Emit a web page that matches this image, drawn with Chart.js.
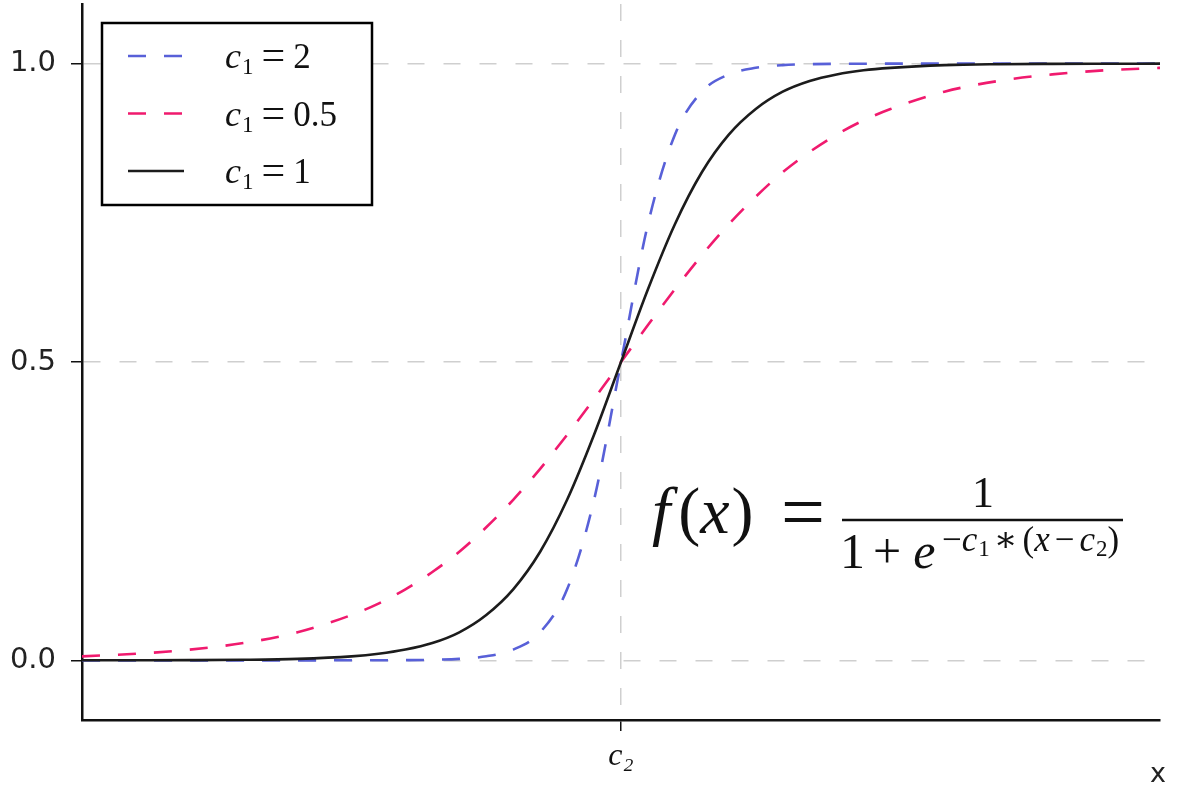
<!DOCTYPE html>
<html>
<head>
<meta charset="utf-8">
<script src="https://cdn.jsdelivr.net/npm/chart.js@4.4.1/dist/chart.umd.min.js"></script>
<style>
  html, body { margin: 0; padding: 0; background: #fff; }
  #wrap { width: 1181px; height: 790px; position: relative; }
</style>
</head>
<body>
<div id="wrap"><canvas id="sigmoidChart"></canvas></div>
<script>
// values (x in units around c2 = 0)
const xValues = [-10, -9, -8, -7, -6, -5, -4.5, -4, -3.5, -3, -2.5, -2, -1.5, -1, -0.5, 0,
  0.5, 1, 1.5, 2, 2.5, 3, 3.5, 4, 4.5, 5, 6, 7, 8, 9, 10];
const c1Two = [0, 0, 0, 0, 0, 0.00005, 0.0001, 0.0003, 0.0009, 0.0025, 0.0067, 0.018, 0.047, 0.119, 0.269, 0.5,
  0.731, 0.881, 0.953, 0.982, 0.993, 0.9975, 0.9991, 0.9997, 0.9999, 1, 1, 1, 1, 1, 1];
const c1Half = [0.0067, 0.011, 0.018, 0.029, 0.047, 0.076, 0.095, 0.119, 0.148, 0.182, 0.223, 0.269, 0.321, 0.378, 0.438, 0.5,
  0.562, 0.622, 0.679, 0.731, 0.777, 0.818, 0.852, 0.881, 0.905, 0.924, 0.953, 0.971, 0.982, 0.989, 0.993];
const c1One = [0.00005, 0.0001, 0.0003, 0.0009, 0.0025, 0.0067, 0.011, 0.018, 0.029, 0.047, 0.076, 0.119, 0.182, 0.269, 0.378, 0.5,
  0.622, 0.731, 0.818, 0.881, 0.924, 0.953, 0.971, 0.982, 0.989, 0.993, 0.9975, 0.9991, 0.9997, 0.9999, 1];
const seriesNames = ["2", "0.5", "1"];
const yTicks = [0, 0.5, 1.0];
const xTicks = [0];
const xTickLabels = ["c\u2082"];

const SERIF = '"Liberation Serif", "DejaVu Serif", serif';

function toPoints(values) {
  return values.map((v, i) => ({ x: xValues[i], y: v }));
}

// draw a row of text pieces, each with its own font
function drawRuns(ctx, x, y, runs) {
  runs.forEach((r) => {
    ctx.font = (r.italic ? "italic " : "") + r.size + "px " + SERIF;
    if (r.at !== undefined) x = r.at;
    x += r.pre || 0;
    ctx.fillText(r.t, x, y + (r.dy || 0));
    x += ctx.measureText(r.t).width + (r.post || 0);
  });
  return x;
}

const overlayPlugin = {
  id: "overlay",
  afterDraw(chart) {
    const ctx = chart.ctx;
    ctx.save();
    ctx.textBaseline = "alphabetic";
    ctx.textAlign = "left";

    // legend box
    ctx.fillStyle = "#fff";
    ctx.fillRect(102, 23, 270, 182);
    ctx.strokeStyle = "#000";
    ctx.lineWidth = 2.5;
    ctx.strokeRect(102, 23, 270, 182);

    chart.data.datasets.forEach((ds, i) => {
      const base = 68 + i * 57.5;
      ctx.strokeStyle = ds.borderColor;
      ctx.lineWidth = 2.5;
      ctx.setLineDash(ds.borderDash || []);
      ctx.beginPath();
      ctx.moveTo(128, base - 12);
      ctx.lineTo(184, base - 12);
      ctx.stroke();
      ctx.setLineDash([]);
      ctx.fillStyle = "#111";
      drawRuns(ctx, 225, base, [
        { t: "c", italic: true, size: 36 },
        { t: "1", size: 23, dy: 6, pre: 1 },
        { t: "=", size: 42, pre: 8, post: 8, dy: 1 },
        { t: seriesNames[i], size: 35 }
      ]);
    });

    // formula
    ctx.fillStyle = "#111";
    drawRuns(ctx, 652, 533, [
      { t: "f", italic: true, size: 66 },
      { t: "(", size: 66, pre: 8 },
      { t: "x", italic: true, size: 66 },
      { t: ")", size: 66, pre: 2 },
      { t: "=", size: 78, at: 781, dy: 5 }
    ]);
    ctx.textAlign = "center";
    ctx.font = "44px " + SERIF;
    ctx.fillText("1", 983, 507);
    ctx.textAlign = "left";
    ctx.strokeStyle = "#111";
    ctx.lineWidth = 2.5;
    ctx.beginPath();
    ctx.moveTo(842, 520);
    ctx.lineTo(1123, 520);
    ctx.stroke();
    drawRuns(ctx, 840, 568, [
      { t: "1", size: 50 },
      { t: "+", size: 50, pre: 8, post: 12 },
      { t: "e", italic: true, size: 50 }
    ]);
    drawRuns(ctx, 942, 551, [
      { t: "\u2212", size: 35 },
      { t: "c", italic: true, size: 35 },
      { t: "1", size: 23, dy: 5, pre: 1 },
      { t: "\u2217", size: 35, pre: 4, post: 5 },
      { t: "(", size: 35 },
      { t: "x", italic: true, size: 35 },
      { t: "\u2212", size: 35, pre: 5, post: 5 },
      { t: "c", italic: true, size: 35 },
      { t: "2", size: 23, dy: 5, pre: 1 },
      { t: ")", size: 35 }
    ]);

    // x axis name
    ctx.textAlign = "center";
    ctx.font = '27px "DejaVu Sans", sans-serif';
    ctx.fillStyle = "#222";
    ctx.fillText("x", 1158, 782);
    ctx.restore();
  }
};

const ctx = document.getElementById("sigmoidChart").getContext("2d");

new Chart(ctx, {
  type: "line",
  data: {
    datasets: [
      {
        label: "c1 = " + seriesNames[0],
        data: toPoints(c1Two),
        borderColor: "#5860d8",
        borderDash: [18, 18],
        order: 2
      },
      {
        label: "c1 = " + seriesNames[1],
        data: toPoints(c1Half),
        borderColor: "#f01a6e",
        borderDash: [18, 18],
        order: 1
      },
      {
        label: "c1 = " + seriesNames[2],
        data: toPoints(c1One),
        borderColor: "#1c1c1c",
        order: 0
      }
    ]
  },
  options: {
    responsive: true,
    maintainAspectRatio: false,
    animation: false,
    elements: {
      point: { radius: 0 },
      line: { borderWidth: 2.6, cubicInterpolationMode: "monotone", fill: false }
    },
    layout: { padding: { top: 4, right: 21, left: 0, bottom: 0 } },
    plugins: {
      legend: { display: false },
      tooltip: { enabled: false }
    },
    scales: {
      x: {
        type: "linear",
        min: -10,
        max: 10,
        afterBuildTicks: (scale) => {
          scale.ticks = xTicks.map((v) => ({ value: v }));
        },
        afterFit: (scale) => {
          scale.height = 70;
          scale.paddingLeft = 0;
          scale.paddingRight = 0;
        },
        ticks: {
          callback: (v) => xTickLabels[xTicks.indexOf(v)],
          font: { family: SERIF, style: "italic", size: 32 },
          color: "#111",
          padding: 6,
          maxRotation: 0
        },
        grid: {
          color: "#cfcfcf",
          lineWidth: 1.5,
          tickColor: "#111",
          tickLength: 11,
          tickWidth: 1.5
        },
        border: { color: "#111", width: 2.5, dash: [17, 19] }
      },
      y: {
        min: -0.1,
        max: 1.1,
        afterBuildTicks: (scale) => {
          scale.ticks = yTicks.map((v) => ({ value: v }));
        },
        afterFit: (scale) => {
          scale.width = 82;
          scale.paddingTop = 0;
          scale.paddingBottom = 0;
        },
        ticks: {
          callback: (v) => v.toFixed(1),
          font: { family: '"DejaVu Sans", sans-serif', size: 29 },
          color: "#222",
          padding: 15
        },
        grid: {
          color: "#cfcfcf",
          lineWidth: 1.5,
          tickColor: "#111",
          tickLength: 11,
          tickWidth: 1.5
        },
        border: { color: "#111", width: 2.5, dash: [17, 19] }
      }
    }
  },
  plugins: [overlayPlugin]
});
</script>
</body>
</html>
